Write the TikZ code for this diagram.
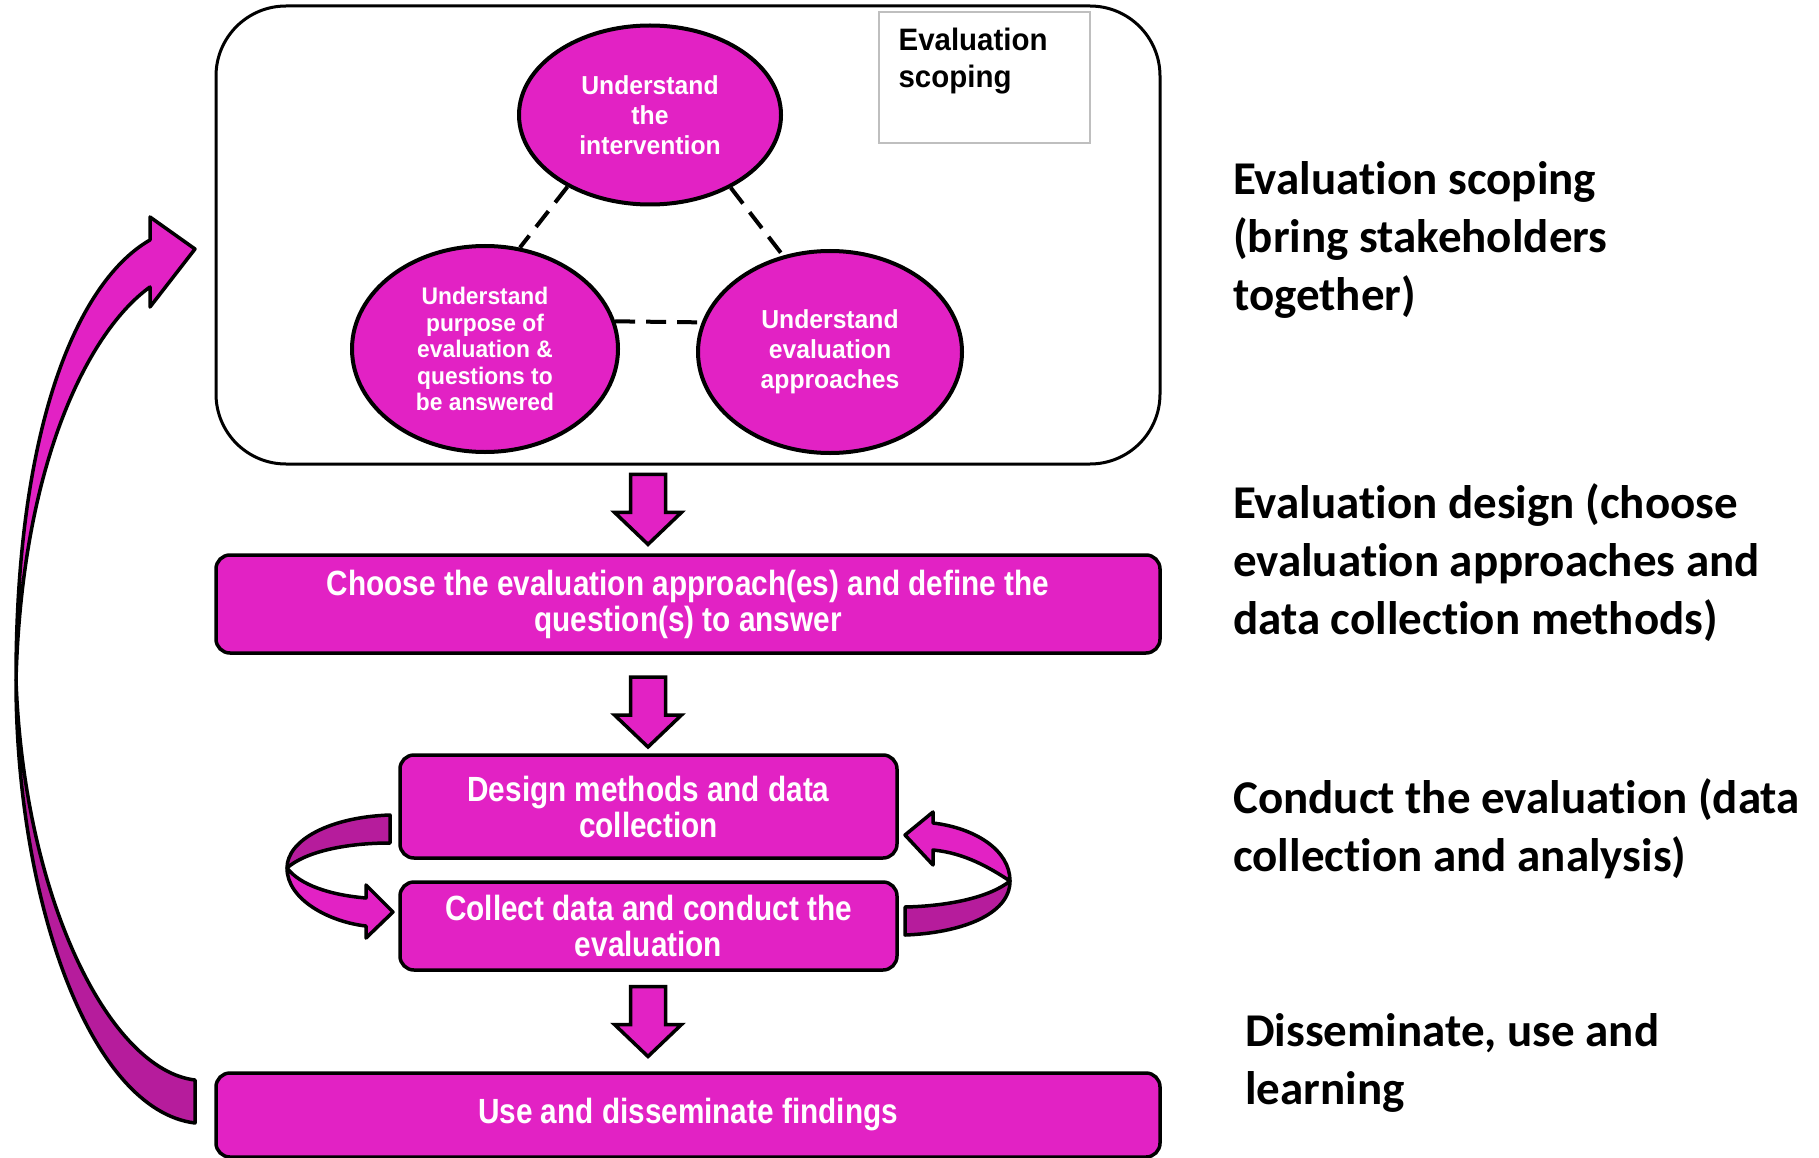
\documentclass[tikz,border=0pt]{standalone}
\usepackage{fontspec}
\usetikzlibrary{calc,shapes.geometric}
\newfontfamily\boxfont{Liberation Sans}[FakeStretch=0.85]
\newfontfamily\ovalfont{Liberation Sans}[FakeStretch=0.95]
\newfontfamily\notefont{Carlito}[Ligatures=NoCommon]
\definecolor{stagefill}{RGB}{226,34,196}
\definecolor{ribbondark}{RGB}{182,28,156}

% block arrow half way between two nodes
\newcommand{\blockdown}[3][0]{%
  \coordinate (mid) at ($(#2.south)!0.5!(#3.north)$);
  \filldraw[arrowblock] (mid -| arrowx) ++(-17.5,-35+#1) -- ++(35,0) -- ++(0,38) -- ++(16,0)
    -- ++(-33.5,32) -- ++(-33.5,-32) -- ++(16,0) -- cycle;}

\begin{document}
\begin{tikzpicture}[x=1pt,y=-1pt,
  stage/.style={draw,line width=3.5pt,fill=stagefill,rounded corners=14pt,text=white,
    font=\boxfont\bfseries\fontsize{35}{36}\selectfont,align=center},
  oval/.style={ellipse,draw,line width=4pt,fill=stagefill,text=white,align=center,inner sep=0pt},
  link/.style={line width=4pt,dash pattern=on 20pt off 11pt},
  arrowblock/.style={fill=stagefill,draw=black,line width=3.5pt,line join=miter},
  ribbon/.style={draw=black,line width=3.5pt,line join=round},
  note/.style={anchor=base west,align=left,inner sep=0pt,
    font=\notefont\bfseries\fontsize{47}{58}\selectfont}]

\useasboundingbox (0,0) rectangle (1819,1158);

% scoping
\node[draw,line width=3pt,rounded corners=70pt,minimum width=944pt,minimum height=458pt] (scope) at (688,235) {};

\node[oval,minimum width=262pt,minimum height=179pt,font=\ovalfont\bfseries\fontsize{26}{30}\selectfont]
  (intervention) at (650,115) {Understand\\the\\intervention};
\node[oval,minimum width=266pt,minimum height=206pt,font=\ovalfont\bfseries\fontsize{24}{26.5}\selectfont]
  (purpose) at (485,349) {Understand\\purpose of\\evaluation \&\\questions to\\be answered};
\node[oval,minimum width=264pt,minimum height=202pt,font=\ovalfont\bfseries\fontsize{26}{30}\selectfont]
  (approaches) at (830,352) {Understand\\evaluation\\approaches};

\draw[link] (intervention.221) -- (purpose.71);
\draw[link] (intervention.318) -- (approaches.116);
\draw[link] (purpose.12) -- (approaches.167);

\node[draw=black!25,line width=1.2pt,minimum width=211pt,minimum height=131pt] (scopetag) at (984.5,77.5) {};
\node[anchor=north west,align=left,inner sep=0pt,font=\ovalfont\bfseries\fontsize{31}{37}\selectfont]
  (scopetext) at ([xshift=20pt,yshift=-16pt]scopetag.north west) {Evaluation\\scoping};

% stages
\node[stage,minimum width=944pt,minimum height=98pt] (choose) at (688,604)
  {Choose the evaluation approach(es) and define the\\question(s) to answer};
\node[stage,minimum width=497pt,minimum height=103pt] (design) at (648.5,806.5)
  {Design methods and data\\collection};
\node[stage,minimum width=497pt,minimum height=88pt] (collect) at (648.5,926)
  {Collect data and conduct the\\evaluation};
\node[stage,minimum width=944pt,minimum height=84pt] (findings) at (688,1115)
  {Use and disseminate findings};

\coordinate (arrowx) at (648,0);
\blockdown{scope}{choose}
\blockdown[8]{choose}{design}
\blockdown{collect}{findings}

% big loop back to scoping
\filldraw[ribbon,fill=ribbondark] (195,1080) -- (195,1123) .. controls (90,1110) and (16,900) .. (16,680)
  .. controls (24,900) and (110,1070) .. (195,1080) -- cycle;
\filldraw[ribbon,fill=stagefill] (16,680) .. controls (16,420) and (80,280) .. (150,240) -- (150,217)
  -- (195,249) -- (150,307) -- (150,287) .. controls (90,330) and (22,460) .. (16,680) -- cycle;

% small loops
\filldraw[ribbon,fill=ribbondark] (390,815) -- (390,843) .. controls (345,843) and (305,852) .. (287,868)
  .. controls (287,840) and (330,817) .. (390,815) -- cycle;
\filldraw[ribbon,fill=stagefill] (287,868) .. controls (287,900) and (330,922) .. (366,926) -- (366,938)
  -- (393,912) -- (366,885) -- (366,898) .. controls (330,895) and (300,885) .. (287,868) -- cycle;
\filldraw[ribbon,fill=stagefill] (933,823) .. controls (975,828) and (1010,850) .. (1010,881)
  .. controls (990,868) and (965,853) .. (933,850) -- (933,865) -- (905,835) -- (933,812) -- cycle;
\filldraw[ribbon,fill=ribbondark] (1010,881) .. controls (1010,915) and (960,933) .. (905,935) -- (905,907)
  .. controls (950,906) and (990,897) .. (1010,881) -- cycle;

% phase notes
\node[note] (scopenote) at (1233,310) {Evaluation scoping\\(bring stakeholders\\together)};
\node[note] (designnote) at (1233,634) {Evaluation design (choose\\evaluation approaches and\\data collection methods)};
\node[note] (conductnote) at (1233,871) {Conduct the evaluation (data\\collection and analysis)};
\node[note] (learnnote) at (1245,1104) {Disseminate, use and\\learning};

\end{tikzpicture}
\end{document}
